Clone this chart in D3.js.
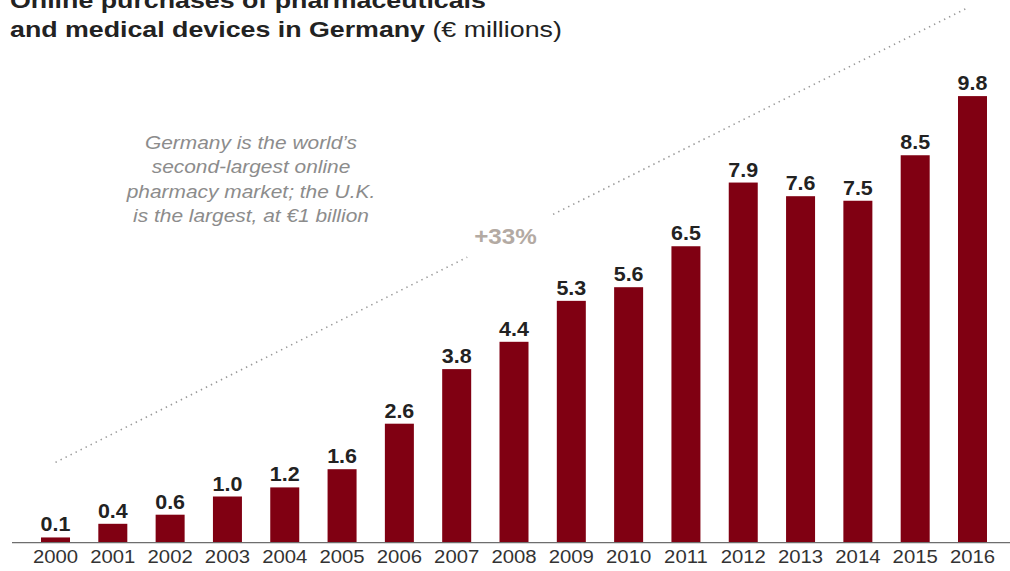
<!DOCTYPE html>
<html><head><meta charset="utf-8">
<script src="https://cdn.jsdelivr.net/npm/d3@7"></script>
<style>
html,body{margin:0;padding:0;background:#fff;}
svg{display:block;font-family:"Liberation Sans",Arial,Helvetica,sans-serif;}
</style></head>
<body>
<svg id="c" width="1010" height="571"></svg>
<script>
const years = ["2000","2001","2002","2003","2004","2005","2006","2007","2008","2009","2010","2011","2012","2013","2014","2015","2016"];
const values = [0.1,0.4,0.6,1.0,1.2,1.6,2.6,3.8,4.4,5.3,5.6,6.5,7.9,7.6,7.5,8.5,9.8];
const titleLine1 = "Online purchases of pharmaceuticals";
const titleLine2Bold = "and medical devices in Germany";
const titleLine2Rest = " (€ millions)";
const noteLines = ["Germany is the world’s","second-largest online","pharmacy market; the U.K.","is the largest, at €1 billion"];
const growthLabel = "+33%";
const trendValues = [1.75, 11.75]; // dotted trend line from first to last year (value units)

const svg = d3.select("#c");
const x = d3.scaleBand().domain(years).range([26.85, 1001.15]).paddingInner(0.494).paddingOuter(0.247);
const y = d3.scaleLinear().domain([0, 10]).range([542, 87]);

function stretched(sel, px, py, sx){ return sel.attr("transform", `translate(${px},${py}) scale(${sx},1)`); }

// title
const t1 = svg.append("text").attr("font-size", 22.5).attr("font-weight", "bold").attr("fill", "#222").text(titleLine1);
stretched(t1, 10, 7.5, 1.19);
const t2 = svg.append("text").attr("font-size", 22.5).attr("fill", "#222");
t2.append("tspan").attr("font-weight", "bold").text(titleLine2Bold);
t2.append("tspan").attr("font-weight", "normal").text(titleLine2Rest);
stretched(t2, 10, 36.5, 1.19);

// trend dotted line (broken around the label)
const xs = x(years[0]) + x.bandwidth()/2, xe = x(years[years.length-1]) + x.bandwidth()/2 - 4;
const ys = y(trendValues[0]), ye = y(trendValues[1]);
const pt = t => [xs + (xe-xs)*t, ys + (ye-ys)*t];
[[0, 0.451],[0.545, 1]].forEach(([a,b]) => {
  const p = pt(a), q = pt(b);
  svg.append("line").attr("x1", p[0]).attr("y1", p[1]).attr("x2", q[0]).attr("y2", q[1])
    .attr("stroke", "#9a9a9a").attr("stroke-width", 1.6).attr("stroke-dasharray", "1.4,4.2").attr("stroke-linecap","butt");
});
const gl = svg.append("text").attr("font-size", 22).attr("font-weight", "bold").attr("fill", "#b3aaa3").attr("text-anchor","middle").text(growthLabel);
stretched(gl, 505.5, 244, 1.1);

// note
noteLines.forEach((s,i) => {
  const tx = svg.append("text").attr("font-size", 19).attr("font-style", "italic").attr("fill", "#8c8c8c").attr("text-anchor","middle").text(s);
  stretched(tx, 251, 149 + i*24.3, 1.1);
});

// bars
svg.append("g").selectAll("rect").data(values).join("rect")
  .attr("x", (d,i) => x(years[i])).attr("width", x.bandwidth())
  .attr("y", d => y(d)).attr("height", d => y(0) - y(d))
  .attr("fill", "#800012");

// value labels
svg.append("g").selectAll("text").data(values).join("text")
  .attr("font-size", 19.5).attr("font-weight", "bold").attr("fill", "#222").attr("text-anchor", "middle")
  .attr("transform", (d,i) => `translate(${x(years[i]) + x.bandwidth()/2},${y(d) - 6}) scale(1.1,1)`)
  .text(d => d.toFixed(1));

// axis
const axis = svg.append("g").attr("transform", `translate(0,${y(0)})`)
  .call(d3.axisBottom(x).tickSize(0).tickPadding(0));
axis.select(".domain").remove();
svg.append("line").attr("x1", 12).attr("x2", 1010).attr("y1", y(0)+0.6).attr("y2", y(0)+0.6).attr("stroke", "#6e6e6e").attr("stroke-width", 1.3);
axis.selectAll(".tick text")
  .attr("font-size", 19).attr("fill", "#333").attr("font-family", "'Liberation Sans',Arial,sans-serif")
  .attr("dy", null).attr("y", 0)
  .attr("transform", `translate(0,21) scale(1.07,1)`);
</script>
</body></html>
